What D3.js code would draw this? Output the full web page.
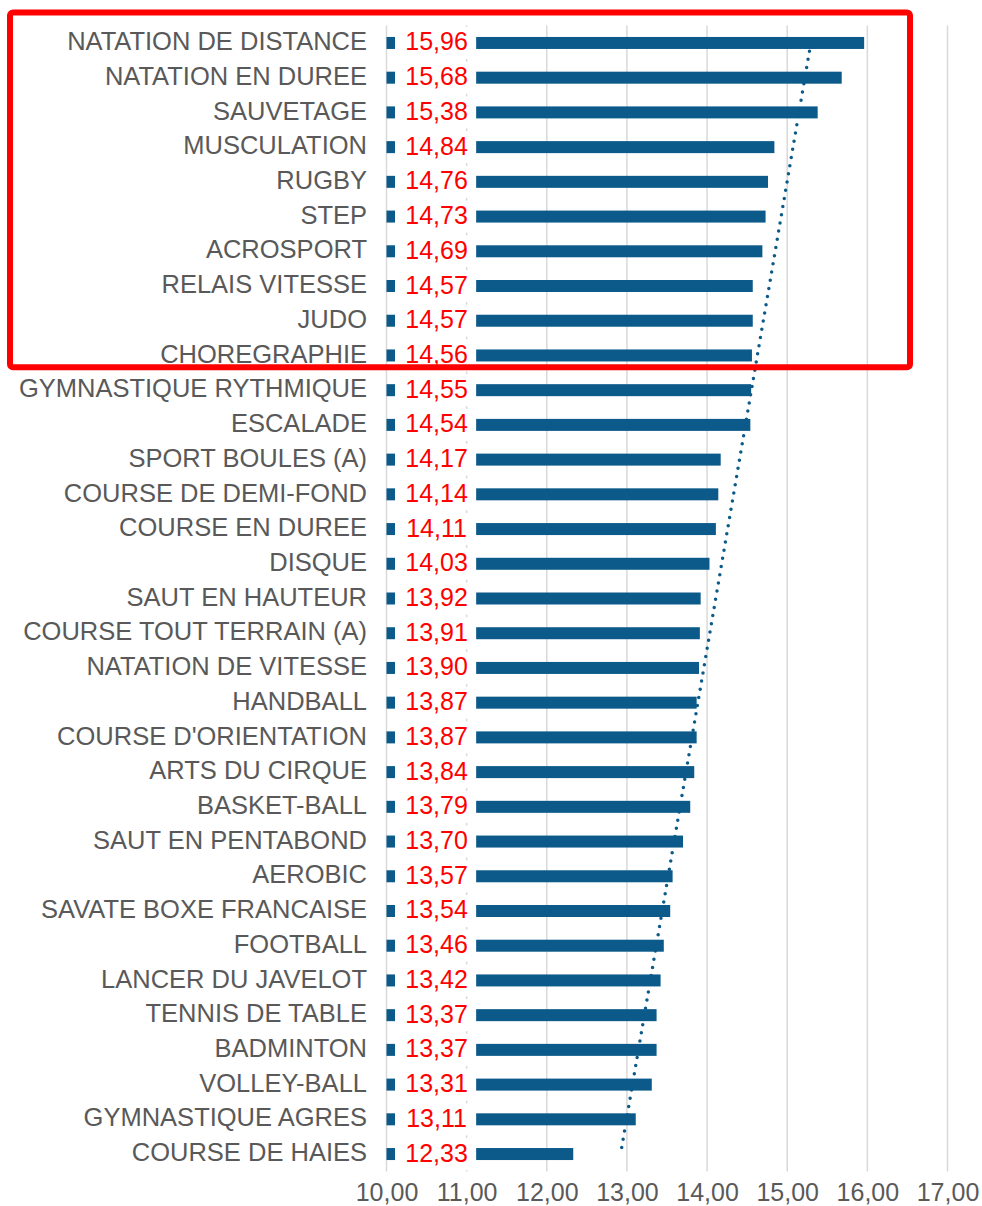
<!DOCTYPE html>
<html>
<head>
<meta charset="utf-8">
<script src="https://cdn.jsdelivr.net/npm/d3@7"></script>
<style>
  html, body { margin: 0; padding: 0; background: #ffffff; }
  svg { display: block; }
  text { font-family: "Liberation Sans", Arial, sans-serif; }
</style>
</head>
<body>
<div id="chart"></div>
<script>
const categories = [
  "NATATION DE DISTANCE", "NATATION EN DUREE", "SAUVETAGE", "MUSCULATION", "RUGBY",
  "STEP", "ACROSPORT", "RELAIS VITESSE", "JUDO", "CHOREGRAPHIE",
  "GYMNASTIQUE RYTHMIQUE", "ESCALADE", "SPORT BOULES (A)", "COURSE DE DEMI-FOND",
  "COURSE EN DUREE", "DISQUE", "SAUT EN HAUTEUR", "COURSE TOUT TERRAIN (A)",
  "NATATION DE VITESSE", "HANDBALL", "COURSE D'ORIENTATION", "ARTS DU CIRQUE",
  "BASKET-BALL", "SAUT EN PENTABOND", "AEROBIC", "SAVATE BOXE FRANCAISE",
  "FOOTBALL", "LANCER DU JAVELOT", "TENNIS DE TABLE", "BADMINTON", "VOLLEY-BALL",
  "GYMNASTIQUE AGRES", "COURSE DE HAIES"
];
const values = [
  15.96, 15.68, 15.38, 14.84, 14.76, 14.73, 14.69, 14.57, 14.57, 14.56,
  14.55, 14.54, 14.17, 14.14, 14.11, 14.03, 13.92, 13.91, 13.90, 13.87,
  13.87, 13.84, 13.79, 13.70, 13.57, 13.54, 13.46, 13.42, 13.37, 13.37,
  13.31, 13.11, 12.33
];
const tickValues = [10, 11, 12, 13, 14, 15, 16, 17];
const highlightCount = 10;

const W = 982, H = 1206;
const barColor = "#0c5a8a";
const textGray = "#595959";
const gridGray = "#d9d9d9";

const data = categories.map((c, i) => ({ cat: c, value: values[i], i }));

const svg = d3.select("#chart").append("svg")
  .attr("width", W).attr("height", H);

const x = d3.scaleLinear().domain([10, 17]).range([386.5, 947.5]);
const y = d3.scaleBand().domain(categories).range([25.6, 1171.4]).padding(0);
const bh = 12;

const frLocale = d3.formatLocale({ decimal: ",", thousands: " ", grouping: [3], currency: ["", " €"] });
const fmt = frLocale.format(".2f");

// gridlines
svg.append("g").selectAll("line").data(tickValues).join("line")
  .attr("x1", d => x(d)).attr("x2", d => x(d))
  .attr("y1", y.range()[0]).attr("y2", y.range()[1])
  .attr("stroke", gridGray).attr("stroke-width", 1.5);

// tick labels
const xAxis = d3.axisBottom(x).tickValues(tickValues).tickFormat(fmt).tickSize(0).tickPadding(0);
const ax = svg.append("g").attr("transform", `translate(0, ${y.range()[1] + 12})`).call(xAxis);
ax.select(".domain").remove();
ax.selectAll("text")
  .attr("fill", textGray)
  .attr("font-size", 25)
  .attr("font-family", "'Liberation Sans', Arial, sans-serif")
  .attr("dy", "0.71em");

// bars
svg.append("g").selectAll("rect").data(data).join("rect")
  .attr("x", x(10))
  .attr("y", d => y(d.cat) + y.bandwidth() / 2 - bh / 2)
  .attr("width", d => x(d.value) - x(10))
  .attr("height", bh)
  .attr("fill", barColor);

// trendline (linear regression over categories)
const n = values.length;
const mx = d3.mean(data, d => d.i), my = d3.mean(values);
const slope = d3.sum(data, d => (d.i - mx) * (d.value - my)) / d3.sum(data, d => (d.i - mx) ** 2);
const intercept = my - slope * mx;
const trend = [0, n - 1].map(i => ({ i, v: intercept + slope * i }));
svg.append("path")
  .datum(trend)
  .attr("d", d3.line()
    .x(d => x(d.v))
    .y(d => y(categories[d.i]) + y.bandwidth() / 2))
  .attr("fill", "none")
  .attr("stroke", barColor)
  .attr("stroke-width", 3.5)
  .attr("stroke-linecap", "round")
  .attr("stroke-dasharray", "0 8.3");

// data labels with white box
const lbl = svg.append("g").selectAll("g").data(data).join("g")
  .attr("transform", d => `translate(0, ${y(d.cat) + y.bandwidth() / 2})`);
lbl.append("rect")
  .attr("x", x(10) + 8.5)
  .attr("y", -16)
  .attr("width", x(11) - x(10) + 1)
  .attr("height", 32)
  .attr("fill", "#ffffff");
lbl.append("text")
  .attr("x", x(10) + 8.5 + (x(11) - x(10) + 1) / 2 + 1)
  .attr("y", -1.5)
  .attr("dy", "0.36em")
  .attr("text-anchor", "middle")
  .attr("font-size", 25)
  .attr("fill", "#ff0000")
  .text(d => fmt(d.value));

// category labels
svg.append("g").selectAll("text").data(data).join("text")
  .attr("x", x(10) - 19.5)
  .attr("y", d => y(d.cat) + y.bandwidth() / 2 - 2)
  .attr("dy", "0.36em")
  .attr("text-anchor", "end")
  .attr("font-size", 25.5)
  .attr("fill", textGray)
  .text(d => d.cat);

// highlight box around top group
const boxTop = y(categories[0]) - 13;
const boxBottom = y(categories[highlightCount - 1]) + y.bandwidth() - 5.5;
svg.append("rect")
  .attr("x", 10).attr("y", boxTop)
  .attr("width", 900).attr("height", boxBottom - boxTop)
  .attr("rx", 3)
  .attr("fill", "none")
  .attr("stroke", "#ff0000")
  .attr("stroke-width", 6);
</script>
</body>
</html>
